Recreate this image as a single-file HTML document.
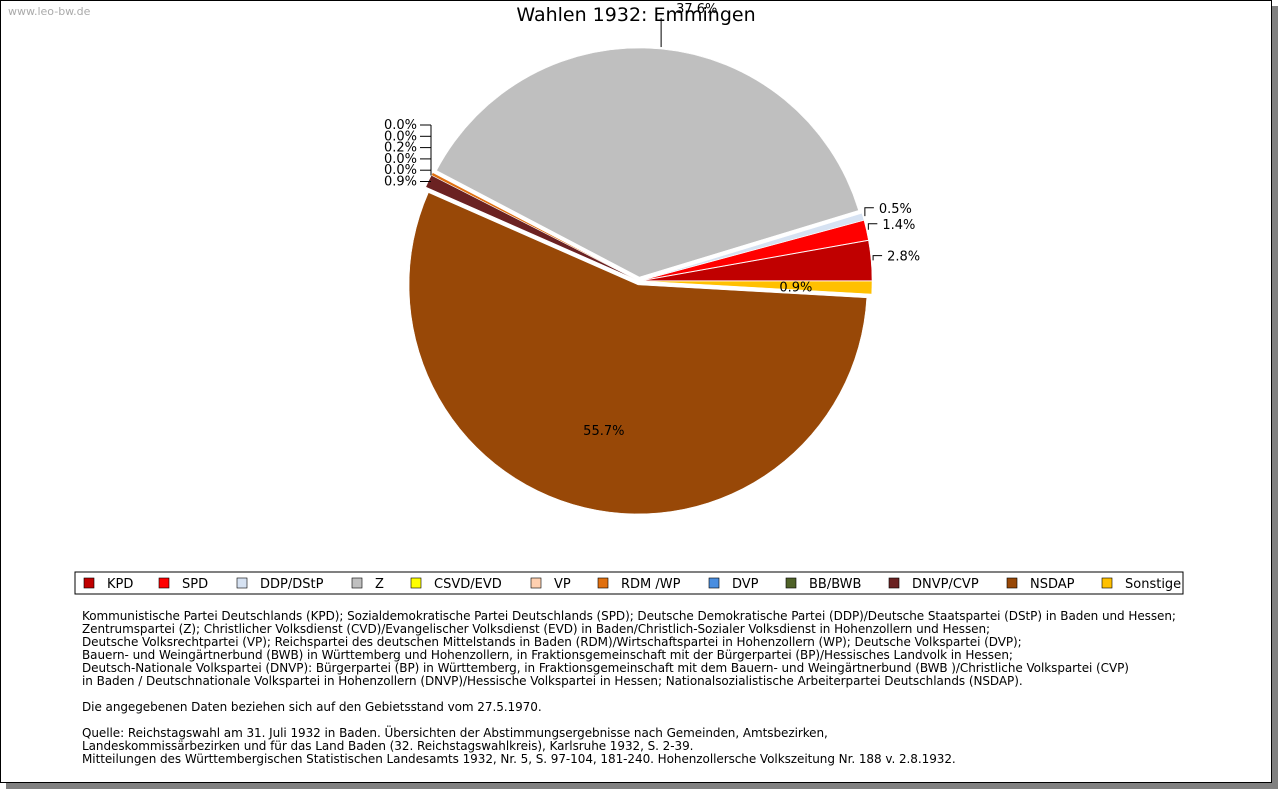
<!DOCTYPE html>
<html><head><meta charset="utf-8"><style>
body{margin:0;background:#fff;}
#wrap{position:relative;width:1280px;height:791px;overflow:hidden;font-family:"DejaVu Sans","Liberation Sans",sans-serif;}
#frame{position:absolute;left:0;top:0;width:1272px;height:783px;border:1px solid #000;box-sizing:border-box;background:#fff;box-shadow:6px 6px 0 #808080;}
#notes{position:absolute;left:82px;top:610px;font-size:12px;line-height:13px;color:#000;white-space:pre;letter-spacing:-0.06px;}
</style></head><body>
<div id="wrap">
<div id="frame"></div>
<svg id="chart" width="1280" height="791" style="position:absolute;left:0;top:0">
<text x="8" y="15" font-size="11" fill="#aaa">www.leo-bw.de</text>
<text x="636" y="21" font-size="19" text-anchor="middle">Wahlen 1932: Emmingen</text>
<g id="slices"></g><g id="labels"></g>
<rect x="75" y="572" width="1108" height="22" fill="#fff" stroke="#000"/>
<g id="legend"></g>
</svg>
<div id="notes">Kommunistische Partei Deutschlands (KPD); Sozialdemokratische Partei Deutschlands (SPD); Deutsche Demokratische Partei (DDP)/Deutsche Staatspartei (DStP) in Baden und Hessen;
Zentrumspartei (Z); Christlicher Volksdienst (CVD)/Evangelischer Volksdienst (EVD) in Baden/Christlich-Sozialer Volksdienst in Hohenzollern und Hessen;
Deutsche Volksrechtpartei (VP); Reichspartei des deutschen Mittelstands in Baden (RDM)/Wirtschaftspartei in Hohenzollern (WP); Deutsche Volkspartei (DVP);
Bauern- und Weingärtnerbund (BWB) in Württemberg und Hohenzollern, in Fraktionsgemeinschaft mit der Bürgerpartei (BP)/Hessisches Landvolk in Hessen;
Deutsch-Nationale Volkspartei (DNVP): Bürgerpartei (BP) in Württemberg, in Fraktionsgemeinschaft mit dem Bauern- und Weingärtnerbund (BWB )/Christliche Volkspartei (CVP)
in Baden / Deutschnationale Volkspartei in Hohenzollern (DNVP)/Hessische Volkspartei in Hessen; Nationalsozialistische Arbeiterpartei Deutschlands (NSDAP).

Die angegebenen Daten beziehen sich auf den Gebietsstand vom 27.5.1970.

Quelle: Reichstagswahl am 31. Juli 1932 in Baden. Übersichten der Abstimmungsergebnisse nach Gemeinden, Amtsbezirken,
Landeskommissärbezirken und für das Land Baden (32. Reichstagswahlkreis), Karlsruhe 1932, S. 2-39.
Mitteilungen des Württembergischen Statistischen Landesamts 1932, Nr. 5, S. 97-104, 181-240. Hohenzollersche Volkszeitung Nr. 188 v. 2.8.1932.</div>
</div>
<script>
const parties=["KPD","SPD","DDP/DStP","Z","CSVD/EVD","VP","RDM /WP","DVP","BB/BWB","DNVP/CVP","NSDAP","Sonstige"];
const shares=[2.8,1.4,0.5,37.6,0.0,0.0,0.2,0.0,0.0,0.9,55.7,0.9];
const colors=["#c00000","#ff0000","#d6e2f2","#bfbfbf","#ffff00","#ffd0b0","#e07010","#4a8ee0","#4f6228","#6b2222","#984807","#ffc000"];
const NS="http://www.w3.org/2000/svg";
const cx=639,cy=281,R=229,EX=4;
const total=shares.reduce((a,b)=>a+b,0);
function mk(t,a,p){const e=document.createElementNS(NS,t);for(const k in a)e.setAttribute(k,a[k]);p.appendChild(e);return e;}
const gS=document.getElementById('slices'),gL=document.getElementById('labels'),gG=document.getElementById('legend');
function pt(a,r,ox,oy){return [ox+r*Math.cos(a),oy-r*Math.sin(a)];}
let acc=0;const mids=[];
shares.forEach((v,i)=>{
  const a0=acc/total*2*Math.PI;acc+=v;const a1=acc/total*2*Math.PI;const m=(a0+a1)/2;mids.push(m);
  if(v<=0)return;
  const ox=cx+EX*Math.cos(m),oy=cy-EX*Math.sin(m);
  const p0=pt(a0,R,ox,oy),p1=pt(a1,R,ox,oy);
  const large=(a1-a0)>Math.PI?1:0;
  const s=mk('path',{d:`M${ox},${oy}L${p0[0]},${p0[1]}A${R},${R} 0 ${large} 0 ${p1[0]},${p1[1]}Z`,fill:colors[i],stroke:'#fff','stroke-width':0.5},gS);
  
  
});
const leftSet=[];
shares.forEach((v,i)=>{const m=mids[i];if(m>Math.PI/2&&m<Math.PI&&v<2)leftSet.push(i);});
let lastRightY=-1e9;
shares.forEach((v,i)=>{
  const m=mids[i];const txt=v.toFixed(1)+'%';let t;
  if(v>=20){
    const q=pt(m,0.67*R,cx,cy);
    if(v<50){
      const e=pt(m,R+EX+2,cx,cy);
      mk('path',{d:`M${e[0]},${e[1]}V18`,stroke:'#000',fill:'none'},gL);
      t=mk('text',{x:e[0]+15,y:13,'font-size':13},gL);
    } else t=mk('text',{x:q[0]-20,y:q[1]+5,'font-size':13},gL);
  } else if(m>1.5*Math.PI){
    const q=pt(m,0.67*R,cx,cy);
    t=mk('text',{x:q[0]-13,y:q[1]+6,'font-size':13},gL);
  } else if(leftSet.includes(i)){
    const k=leftSet.indexOf(i);const y=129+k*11.3;
    mk('path',{d:`M420,${y-4}H431`,stroke:'#000'},gL);
    t=mk('text',{x:417,y:y,'font-size':13,'text-anchor':'end'},gL);
    if(k===leftSet.length-1)mk('path',{d:`M431,${125}V${y-10}`,stroke:'#000'},gL);
  } else {
    const e=pt(m,R+EX+2,cx,cy);let y=cy-(R+15)*Math.sin(m)-4;
    if(y>lastRightY-16&&lastRightY>-1e8)y=lastRightY-16;lastRightY=y;
    mk('path',{d:`M${e[0]},${e[1]}V${y}H${e[0]+9}`,stroke:'#000',fill:'none'},gL);
    t=mk('text',{x:e[0]+14,y:y+5,'font-size':13},gL);
  }
  t.textContent=txt;
  
  
});
const lx=[84,159,237,352,411,531,598,709,786,889,1007,1102];
parties.forEach((p,i)=>{
  const g=mk('g',{},gG);
  
  
  mk('rect',{x:lx[i],y:578,width:10,height:10,fill:colors[i],stroke:'#000','stroke-width':0.6},g);
  const t=mk('text',{x:lx[i]+23,y:588,'font-size':13},g);t.textContent=p;
});
</script>
</body></html>
